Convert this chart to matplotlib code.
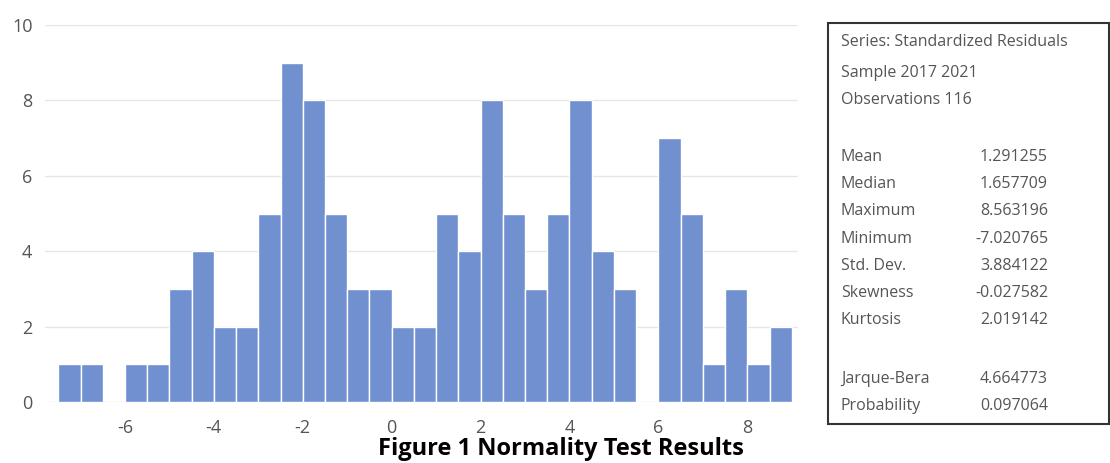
import matplotlib.pyplot as plt
import numpy as np

# histogram of standardized residuals, bins 0.5 wide
bin_starts = np.arange(-7.5, 9.0, 0.5)
counts = [1, 1, 0, 1, 1, 3, 4, 2, 2, 5, 9, 8, 5, 3, 3, 2, 2,
          5, 4, 8, 5, 3, 5, 8, 4, 3, 0, 7, 5, 1, 3, 1, 2]
bin_width = 0.5

xticks = [-6, -4, -2, 0, 2, 4, 6, 8]
yticks = [0, 2, 4, 6, 8, 10]

header = ['Series: Standardized Residuals', 'Sample 2017 2021', 'Observations 116']
stat_names = ['Mean', 'Median', 'Maximum', 'Minimum', 'Std. Dev.', 'Skewness', 'Kurtosis']
stat_values = ['1.291255', '1.657709', '8.563196', '-7.020765', '3.884122', '-0.027582', '2.019142']
test_names = ['Jarque-Bera', 'Probability']
test_values = ['4.664773', '0.097064']

plt.rcParams['font.family'] = ['Open Sans', 'DejaVu Sans']
plt.rcParams['axes.unicode_minus'] = False

fig = plt.figure(figsize=(11.1, 4.63), dpi=100)
ax = fig.add_axes([0.0405, 0.1317, 0.678, 0.8143])

ax.bar(bin_starts, counts, width=bin_width, align='edge',
       color='#7090CF', edgecolor='white', linewidth=1.0, zorder=3)

ax.set_xlim(-7.8, 9.13)
ax.set_ylim(0, 10)
ax.set_xticks(xticks)
ax.set_yticks(yticks)
ax.grid(axis='y', color='#e6e6e6', linewidth=1, zorder=0)
for s in ax.spines.values():
    s.set_visible(False)
ax.tick_params(length=0, labelsize=13, colors='#555555')
ax.tick_params(axis='y', pad=9)
ax.tick_params(axis='x', pad=12)

fig.text(0.505, 0.03, 'Figure 1 Normality Test Results', ha='center', va='center',
         fontsize=17, fontweight='bold', color='black')

# stats box
W, H = 1110, 463
box = plt.Rectangle((828 / W, 1 - 424 / H), (1109 - 828) / W, (424 - 23) / H,
                    transform=fig.transFigure, fill=False, edgecolor='#333333', linewidth=1.5)
fig.patches.append(box)

tc = '#555555'
fs = 11.5
lx, vx = 841 / W, 1048 / W
ys = [42, 73, 100]
for txt, y in zip(header, ys):
    fig.text(lx, 1 - y / H, txt, ha='left', va='center', fontsize=fs, color=tc)
for i, (n, v) in enumerate(zip(stat_names, stat_values)):
    y = 157 + i * 27.2
    fig.text(lx, 1 - y / H, n, ha='left', va='center', fontsize=fs, color=tc)
    fig.text(vx, 1 - y / H, v, ha='right', va='center', fontsize=fs, color=tc)
for i, (n, v) in enumerate(zip(test_names, test_values)):
    y = 379 + i * 27
    fig.text(lx, 1 - y / H, n, ha='left', va='center', fontsize=fs, color=tc)
    fig.text(vx, 1 - y / H, v, ha='right', va='center', fontsize=fs, color=tc)

fig.savefig('out.png', dpi=100)
